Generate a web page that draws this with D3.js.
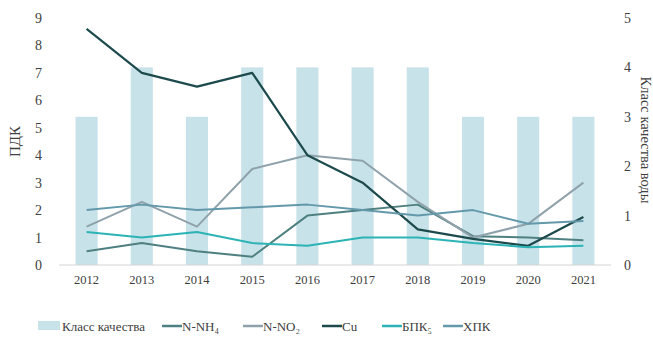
<!DOCTYPE html>
<html>
<head>
<meta charset="utf-8">
<script src="https://cdn.jsdelivr.net/npm/d3@7"></script>
<style>
  body { margin: 0; background: #fff; }
  svg text { font-family: "Liberation Serif", "DejaVu Serif", serif; fill: #404040; }
</style>
</head>
<body>
<svg id="mainsvg" width="653" height="340"></svg>
<script>
// data
var years = ["2012","2013","2014","2015","2016","2017","2018","2019","2020","2021"];
var qualityClass = [3, 4, 3, 4, 4, 4, 4, 3, 3, 3];
var nNH4 = [0.5, 0.8, 0.5, 0.3, 1.8, 2.0, 2.2, 1.05, 1.0, 0.9];
var nNO2 = [1.4, 2.3, 1.4, 3.5, 4.0, 3.8, 2.3, 1.0, 1.5, 3.0];
var cu   = [8.6, 7.0, 6.5, 7.0, 4.0, 3.0, 1.3, 0.95, 0.7, 1.75];
var bpk5 = [1.2, 1.0, 1.2, 0.8, 0.7, 1.0, 1.0, 0.8, 0.65, 0.7];
var hpk  = [2.0, 2.2, 2.0, 2.1, 2.2, 2.0, 1.8, 2.0, 1.5, 1.6];
var leftTicks = [0,1,2,3,4,5,6,7,8,9];
var rightTicks = [0,1,2,3,4,5];

var series = [
    {name: "N-NH\u2084", values: nNH4, color: "#4f8081"},
    {name: "N-NO\u2082", values: nNO2, color: "#8fa2ab"},
    {name: "Cu",        values: cu,   color: "#1d4a4c"},
    {name: "БПК\u2085", values: bpk5, color: "#2bb3b5"},
    {name: "ХПК",       values: hpk,  color: "#6399aa"}
];

(function(){
var svg = d3.select("#mainsvg");
var plotLeft = 59, plotRight = 611, plotTop = 18, plotBottom = 265;
var barColor = "#c8e2ea";

var x = d3.scaleBand().domain(years).range([plotLeft, plotRight]).paddingInner(0.6).paddingOuter(0.3);
var xc = function(d){ return x(d) + x.bandwidth()/2; };
var y = d3.scaleLinear().domain([0, 9]).range([plotBottom, plotTop]);
var y2 = d3.scaleLinear().domain([0, 5]).range([plotBottom, plotTop]);

// bars (right axis)
svg.append("g").selectAll("rect")
    .data(qualityClass)
    .enter().append("rect")
    .attr("x", function(d,i){ return x(years[i]); })
    .attr("width", x.bandwidth())
    .attr("y", function(d){ return y2(d); })
    .attr("height", function(d){ return plotBottom - y2(d); })
    .attr("fill", barColor);

// baseline
svg.append("line")
    .attr("x1", plotLeft).attr("x2", plotRight)
    .attr("y1", plotBottom).attr("y2", plotBottom)
    .attr("stroke", "#d4d4d4").attr("stroke-width", 1);

// lines
var line = d3.line()
    .x(function(d,i){ return xc(years[i]); })
    .y(function(d){ return y(d); });

svg.append("g").selectAll("path")
    .data(series)
    .enter().append("path")
    .attr("d", function(s){ return line(s.values); })
    .attr("fill", "none")
    .attr("stroke", function(s){ return s.color; })
    .attr("stroke-width", function(s){ return s.name === "Cu" ? 2.2 : 2; })
    .attr("stroke-linejoin", "round");

// axes
var xAxis = svg.append("g")
    .attr("transform", "translate(0," + plotBottom + ")")
    .call(d3.axisBottom(x).tickSize(0).tickPadding(10));
xAxis.select(".domain").remove();
xAxis.selectAll("text").style("font-size", "12.5px");

var yAxis = svg.append("g")
    .attr("transform", "translate(" + (plotLeft - 14) + ",0)")
    .call(d3.axisLeft(y).tickValues(leftTicks).tickSize(0).tickFormat(d3.format("d")));
yAxis.select(".domain").remove();
yAxis.selectAll("text").style("font-size", "14px");

var yAxis2 = svg.append("g")
    .attr("transform", "translate(" + (plotRight + 10) + ",0)")
    .call(d3.axisRight(y2).tickValues(rightTicks).tickSize(0).tickFormat(d3.format("d")));
yAxis2.select(".domain").remove();
yAxis2.selectAll("text").style("font-size", "14px");

// axis titles
svg.append("text")
    .attr("transform", "translate(20," + ((plotTop + plotBottom)/2) + ") rotate(-90)")
    .attr("text-anchor", "middle")
    .style("font-size", "15px")
    .text("ПДК");

svg.append("text")
    .attr("transform", "translate(641,140) rotate(90)")
    .attr("text-anchor", "middle")
    .style("font-size", "14.5px")
    .text("Класс качества воды");

// legend
var legend = svg.append("g").attr("transform", "translate(0,326)");
legend.append("rect")
    .attr("x", 38).attr("y", -5).attr("width", 22).attr("height", 9)
    .attr("fill", barColor);
legend.append("text")
    .attr("x", 62).attr("y", 4.5)
    .style("font-size", "13px")
    .text("Класс качества");

var legendX = [162, 243, 322, 382, 443];
var items = legend.selectAll("g.item")
    .data(series)
    .enter().append("g")
    .attr("class", "item")
    .attr("transform", function(d,i){ return "translate(" + legendX[i] + ",0)"; });
items.append("line")
    .attr("x1", 0).attr("x2", 20)
    .attr("y1", 0).attr("y2", 0)
    .attr("stroke", function(d){ return d.color; })
    .attr("stroke-width", 2.5);
items.append("text")
    .attr("x", 20).attr("y", 4.5)
    .style("font-size", "13px")
    .text(function(d){ return d.name; });
})();
</script>
</body>
</html>
